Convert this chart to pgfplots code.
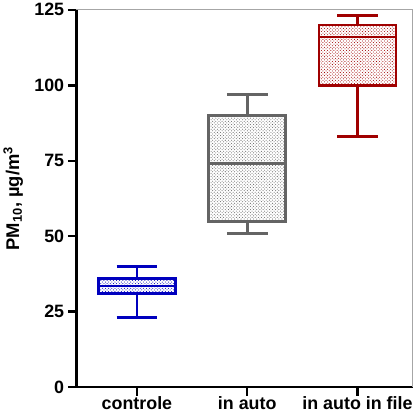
\documentclass[border=0pt]{standalone}
\usepackage{fontspec}
\setmainfont{Liberation Sans}
\usepackage{pgfplots}
\pgfplotsset{compat=1.18}
\usepgfplotslibrary{statistics}
\usetikzlibrary{patterns}
\definecolor{cblue}{RGB}{0,0,190}
\definecolor{cgray}{RGB}{100,100,100}
\definecolor{cred}{RGB}{160,0,0}
\pgfplotsset{
  every axis/.append style={
    axis x line=bottom, axis y line=left,
    every outer x axis line/.style={line width=2.4pt, black},
    every outer y axis line/.style={line width=2.4pt, black},
    every inner x axis line/.style={line width=2.4pt, black},
    every inner y axis line/.style={line width=2.4pt, black},
    x axis line style={-}, y axis line style={-},
    tick align=outside,
    major tick length=8bp,
    every tick/.style={line width=2.4pt, black},
  },
  mybox/.style={line width=2.6pt, solid, mark=none,
    boxplot/draw direction=y, boxplot/box extend=0.7, boxplot/whisker extend=0.37,
    boxplot/every box/.style={line width=2.6pt, fill=white, postaction={pattern=crosshatch dots, pattern color=#1}},
    draw=#1},
}
\begin{document}
\begin{tikzpicture}
\begin{axis}[
  scale only axis,
  width=319bp, height=358bp,
  xmin=-0.55, xmax=2.5,
  ymin=0, ymax=125,
  xtick={0,1,2},
  xticklabels={controle,in auto,in auto in file},
  ytick={0,25,50,75,100,125},
  every tick label/.append style={font=\bfseries\fontsize{17}{19}\selectfont},
  /pgf/number format/assume math mode=true,
  ylabel={\textbf{PM\textsubscript{10}, µg/m\textsuperscript{3}}},
  ylabel style={font=\bfseries\fontsize{17.5}{20}\selectfont},
  ylabel shift=4bp,
  xticklabel style={yshift=3bp},
  clip=false,
]
\draw[gray!70, line width=0.8pt] (rel axis cs:0,1) -- (rel axis cs:1,1) -- (rel axis cs:1,0);
\addplot[mybox=cblue,
  boxplot prepared={lower whisker=23, lower quartile=31, median=33.5, upper quartile=36, upper whisker=40, draw position=0}]
  coordinates {};
\addplot[mybox=cgray,
  boxplot prepared={lower whisker=51, lower quartile=55, median=74, upper quartile=90, upper whisker=97, draw position=1}]
  coordinates {};
\addplot[mybox=cred,
  boxplot prepared={lower whisker=83, lower quartile=100, median=116, upper quartile=120, upper whisker=123, draw position=2}]
  coordinates {};
\end{axis}
\end{tikzpicture}
\end{document}
